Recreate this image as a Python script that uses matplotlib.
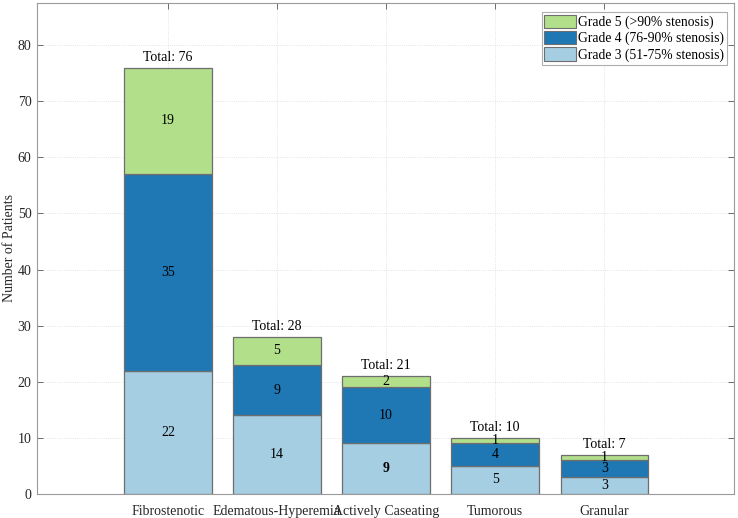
import matplotlib.pyplot as plt
import numpy as np
from matplotlib.patches import Patch

plt.rcParams["font.family"] = ["Liberation Serif", "DejaVu Serif"]

CATEGORIES = [
    "Fibrostenotic",
    "Edematous-Hyperemia",
    "Actively Caseating",
    "Tumorous",
    "Granular",
]

GRADE_3 = [22, 14, 9, 5, 3]
GRADE_4 = [35, 9, 10, 4, 3]
GRADE_5 = [19, 5, 2, 1, 1]

SERIES_LABELS = [
    "Grade 3 (51-75% stenosis)",
    "Grade 4 (76-90% stenosis)",
    "Grade 5 (>90% stenosis)",
]

Y_TICKS = [0, 10, 20, 30, 40, 50, 60, 70, 80]

COLORS = ["#a6cee3", "#1f78b4", "#b2df8a"]
EDGE = "#6e6e6e"
TEXT = "#262626"


def draw_chart(output_path: str) -> None:
    figure = plt.figure(
        figsize=(7.38, 5.18),
        dpi=100,
        facecolor="white",
    )

    axis = figure.add_axes(
        [37 / 738, 24 / 518, 697 / 738, 491 / 518]
    )

    x = np.arange(1, len(CATEGORIES) + 1)
    series = [GRADE_3, GRADE_4, GRADE_5]
    bottom = np.zeros(len(CATEGORIES))

    for values, color in zip(series, COLORS):
        values = np.asarray(values, dtype=float)

        axis.bar(
            x,
            values,
            width=0.8,
            bottom=bottom,
            color=color,
            edgecolor=EDGE,
            linewidth=0.9,
            zorder=3,
        )

        for index, (xi, value) in enumerate(zip(x, values)):
            # the caseating grade 3 label is bold in the source
            weight = "bold" if (index == 2 and color == COLORS[0]) else "normal"
            axis.text(
                xi,
                bottom[index] + value / 2,
                f"{value:.0f}",
                ha="center",
                va="center",
                fontsize=10,
                fontweight=weight,
                color="black",
                zorder=4,
            )

        bottom = bottom + values

    for xi, total in zip(x, bottom):
        axis.text(
            xi,
            total + 0.7,
            f"Total: {total:.0f}",
            ha="center",
            va="bottom",
            fontsize=10,
            color="black",
            zorder=4,
        )

    axis.set_xlim(-0.2, 6.19)
    axis.set_ylim(0, 87.5)

    axis.set_xticks(x)
    axis.set_xticklabels(CATEGORIES)
    axis.set_yticks(Y_TICKS)

    axis.tick_params(
        axis="both",
        direction="in",
        length=4,
        width=0.6,
        color="#555555",
        labelcolor=TEXT,
        labelsize=10,
        top=True,
        right=True,
    )
    axis.tick_params(axis="x", pad=8)
    axis.tick_params(axis="y", pad=4)

    axis.grid(
        True,
        color="#dcdcdc",
        linestyle=":",
        linewidth=0.6,
        zorder=0,
    )
    axis.set_axisbelow(True)

    for spine in axis.spines.values():
        spine.set_color("#9a9a9a")
        spine.set_linewidth(0.8)

    axis.set_ylabel(
        "Number of Patients",
        fontsize=10,
        color=TEXT,
    )
    axis.yaxis.set_label_coords(-0.030, 0.5)

    handles = [
        Patch(facecolor=color, edgecolor=EDGE, linewidth=0.8)
        for color in COLORS
    ]

    legend = axis.legend(
        handles[::-1],
        SERIES_LABELS[::-1],
        loc="upper right",
        fontsize=9.8,
        frameon=True,
        fancybox=False,
        handlelength=2.3,
        handleheight=1.1,
        handletextpad=0.2,
        labelspacing=0.15,
        borderpad=0.2,
        borderaxespad=0.0,
    )
    legend.get_frame().set_edgecolor("#9a9a9a")
    legend.get_frame().set_linewidth(0.8)
    # put the legend where the source has it, in figure pixels
    legend.set_bbox_to_anchor(
        (727 / 738, (518 - 12) / 518),
        transform=figure.transFigure,
    )

    figure.savefig(output_path, dpi=100, facecolor="white")
    plt.close(figure)


def main():
    draw_chart("out.png")


if __name__ == "__main__":
    main()
